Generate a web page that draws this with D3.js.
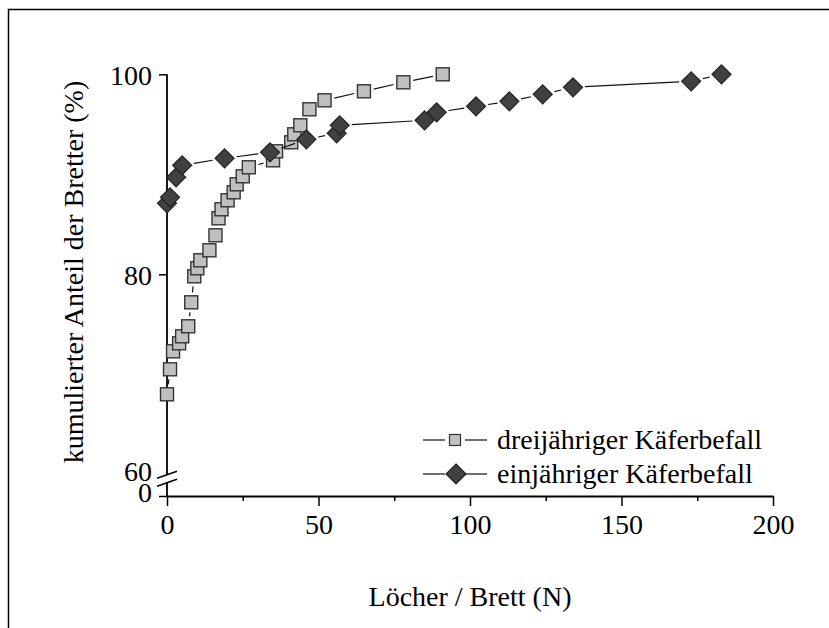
<!DOCTYPE html>
<html lang="de">
<head>
<meta charset="utf-8">
<title>Kumulierter Anteil der Bretter</title>
<script src="https://cdn.jsdelivr.net/npm/d3@7"></script>
<style>
  body { margin: 0; background: #fff; }
  svg text { font-family: "Liberation Serif", "Times New Roman", serif; font-size: 28px; fill: #000; }
</style>
</head>
<body>
<svg id="chart" width="829" height="628"></svg>
<script>
// dreijähriger Käferbefall (squares)
var holesThree = [0, 1, 2, 4, 5, 7, 8, 9, 10, 11, 14, 16, 17, 18, 20, 22, 23, 25, 27, 35, 36, 41, 42, 44, 47, 52, 65, 78, 91];
var shareThree = [68.0, 70.5, 72.3, 73.1, 73.8, 74.8, 77.2, 79.8, 80.6, 81.4, 82.4, 83.9, 85.6, 86.5, 87.4, 88.2, 89.0, 89.8, 90.7, 91.4, 92.3, 93.2, 94.0, 94.9, 96.5, 97.4, 98.3, 99.2, 100];
// einjähriger Käferbefall (diamonds)
var holesOne = [0, 1, 3, 5, 19, 34, 46, 56, 57, 85, 89, 102, 113, 124, 134, 173, 183];
var shareOne = [87.1, 87.7, 89.7, 90.9, 91.6, 92.2, 93.5, 94.1, 94.9, 95.4, 96.2, 96.8, 97.3, 98.0, 98.7, 99.3, 100];

var xTicks = [0, 50, 100, 150, 200];
var xMinorTicks = [25, 75, 125, 175];
var yTicks = [0, 60, 80, 100];
var seriesNames = ["dreijähriger Käferbefall", "einjähriger Käferbefall"];

var svg = d3.select("#chart");

// outer frame (only left and top edges are inside the picture)
svg.append("rect")
  .attr("x", 8.5).attr("y", 9.5)
  .attr("width", 900).attr("height", 700)
  .attr("fill", "none").attr("stroke", "#000").attr("stroke-width", 1.5);

var x = d3.scaleLinear().domain([0, 200]).range([167, 773]);
// broken axis: 0..60 squeezed, 60..100 linear
var y = d3.scaleLinear().domain([0, 60, 100]).range([496, 474.3, 74.3]);

// x axis
var gx = svg.append("g").attr("transform", "translate(0,496)")
  .call(d3.axisBottom(x).tickValues(xTicks).tickSize(10).tickPadding(6).tickSizeOuter(0));
gx.select(".domain").attr("stroke-width", 1.8);
gx.selectAll(".tick line").attr("stroke-width", 1.5);
gx.selectAll("text").style("font-size", "28px").attr("dy", "0.78em");

var gxm = svg.append("g").attr("transform", "translate(0,496)")
  .call(d3.axisBottom(x).tickValues(xMinorTicks).tickSize(5).tickFormat(""));
gxm.select(".domain").remove();
gxm.selectAll(".tick line").attr("stroke-width", 1.5);

// y axis
var gy = svg.append("g").attr("transform", "translate(167,0)")
  .call(d3.axisLeft(y).tickValues(yTicks).tickSize(8).tickPadding(7));
gy.select(".domain").remove();
gy.selectAll(".tick line").attr("stroke-width", 1.5)
  .attr("display", function(d) { return d == 60 ? "none" : null; });
gy.selectAll("text").style("font-size", "28px")
  .attr("dy", function(d) { return d == 0 ? "0.2em" : d == 60 ? "0.22em" : "0.35em"; });

// axis line with break marks
var yb = y(60) + 4.5;
svg.append("line").attr("x1", 167).attr("x2", 167)
  .attr("y1", y(100)).attr("y2", yb - 4)
  .attr("stroke", "#000").attr("stroke-width", 1.8);
svg.append("line").attr("x1", 167).attr("x2", 167)
  .attr("y1", yb + 4).attr("y2", y(0))
  .attr("stroke", "#000").attr("stroke-width", 1.8);
[-4, 4].forEach(function(o) {
  svg.append("line")
    .attr("x1", 157).attr("y1", yb + o + 3.5)
    .attr("x2", 177).attr("y2", yb + o - 3.5)
    .attr("stroke", "#000").attr("stroke-width", 1.5);
});

// axis titles
svg.append("text")
  .attr("x", 470).attr("y", 606)
  .attr("text-anchor", "middle")
  .text("Löcher / Brett (N)");
svg.append("text")
  .attr("transform", "translate(83,272) rotate(-90)")
  .attr("text-anchor", "middle")
  .text("kumulierter Anteil der Bretter (%)");

// connecting lines with gaps around the symbols
function gapLines(xs, ys, gap) {
  var pts = xs.map(function(v, i) { return [x(v), y(ys[i])]; });
  var segs = [];
  for (var i = 1; i < pts.length; i++) {
    var dx = pts[i][0] - pts[i - 1][0], dy = pts[i][1] - pts[i - 1][1];
    var L = Math.sqrt(dx * dx + dy * dy);
    if (L <= 2 * gap) continue;
    var ux = dx / L, uy = dy / L;
    segs.push([pts[i - 1][0] + ux * gap, pts[i - 1][1] + uy * gap,
               pts[i][0] - ux * gap, pts[i][1] - uy * gap]);
  }
  return segs;
}

function drawLines(xs, ys, gap) {
  svg.append("g").selectAll("line")
    .data(gapLines(xs, ys, gap))
    .join("line")
    .attr("x1", function(d) { return d[0]; })
    .attr("y1", function(d) { return d[1]; })
    .attr("x2", function(d) { return d[2]; })
    .attr("y2", function(d) { return d[3]; })
    .attr("stroke", "#111").attr("stroke-width", 1.2);
}

var sq = 13, dr = 9.5;
var diamondPath = function(r) { return "M0," + (-r) + "L" + r + ",0L0," + r + "L" + (-r) + ",0Z"; };

drawLines(holesThree, shareThree, 10);
svg.append("g").selectAll("rect")
  .data(holesThree)
  .join("rect")
  .attr("x", function(d) { return x(d) - sq / 2; })
  .attr("y", function(d, i) { return y(shareThree[i]) - sq / 2; })
  .attr("width", sq).attr("height", sq)
  .attr("fill", "#c0c0c0").attr("stroke", "#333").attr("stroke-width", 1.4);

drawLines(holesOne, shareOne, 12);
svg.append("g").selectAll("path")
  .data(holesOne)
  .join("path")
  .attr("transform", function(d, i) { return "translate(" + x(d) + "," + y(shareOne[i]) + ")"; })
  .attr("d", diamondPath(dr))
  .attr("fill", "#404040").attr("stroke", "#222").attr("stroke-width", 1.2);

// legend
var legend = svg.append("g");
var rows = [440, 474];
seriesNames.forEach(function(name, i) {
  var g = legend.append("g").attr("transform", "translate(0," + rows[i] + ")");
  var gap = i == 0 ? 10 : 10;
  g.append("line").attr("x1", 423).attr("x2", 455 - gap).attr("y1", 0).attr("y2", 0)
    .attr("stroke", "#111").attr("stroke-width", 1.2);
  g.append("line").attr("x1", 455 + gap).attr("x2", 487).attr("y1", 0).attr("y2", 0)
    .attr("stroke", "#111").attr("stroke-width", 1.2);
  if (i == 0) {
    g.append("rect").attr("x", 455 - 5.5).attr("y", -5.5).attr("width", 11).attr("height", 11)
      .attr("fill", "#c0c0c0").attr("stroke", "#333").attr("stroke-width", 1.2);
  } else {
    g.append("path").attr("transform", "translate(456,0)").attr("d", diamondPath(10))
      .attr("fill", "#404040").attr("stroke", "#222").attr("stroke-width", 1.2);
  }
  g.append("text").attr("x", 497).attr("y", 0).attr("dy", "0.33em").text(name);
});
</script>
</body>
</html>
